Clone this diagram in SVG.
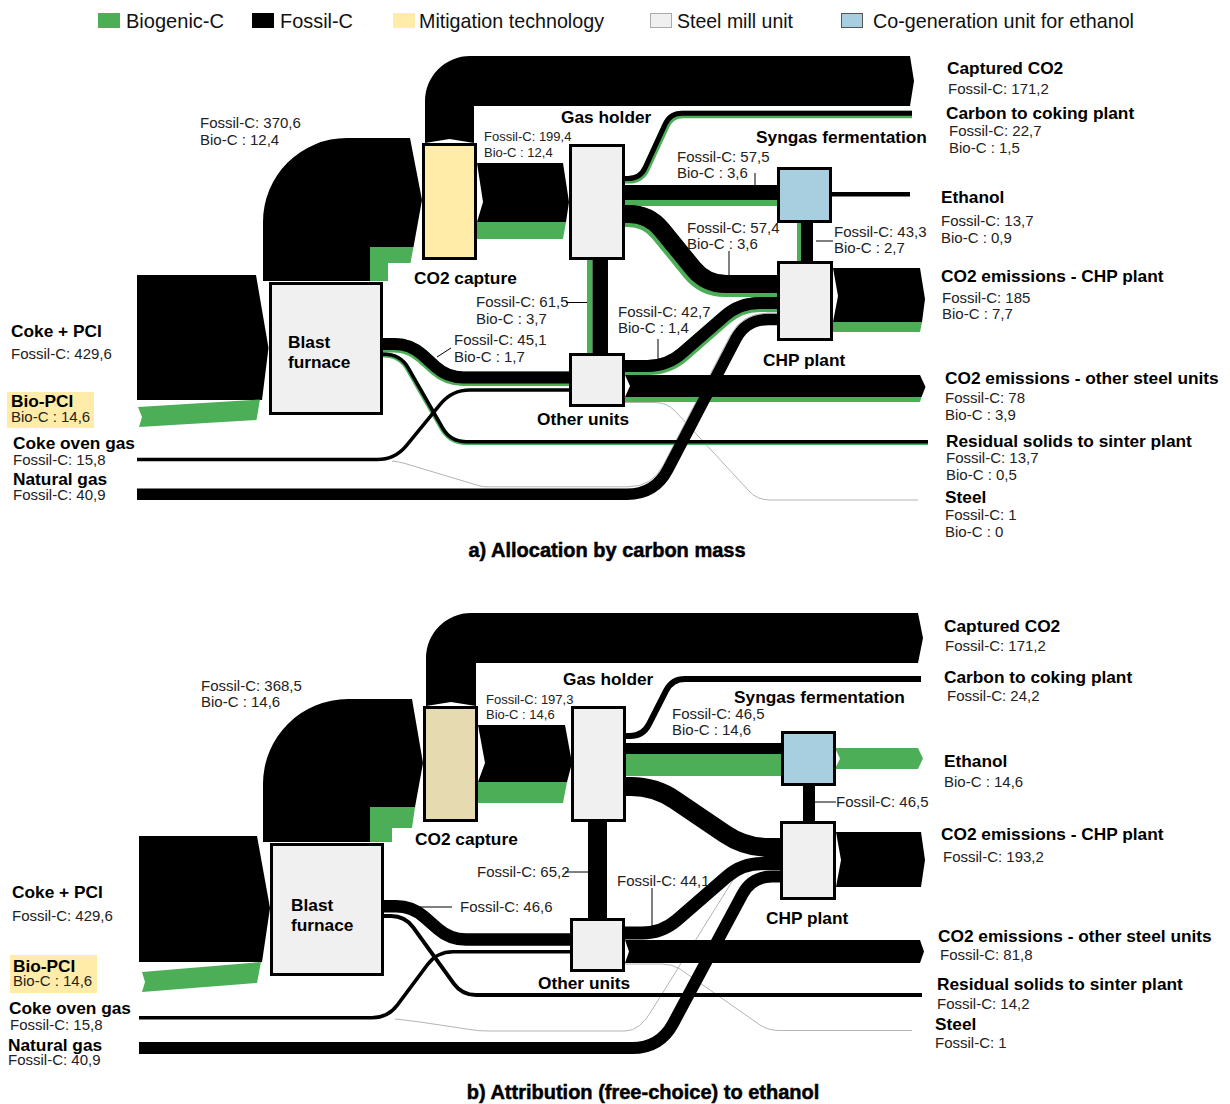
<svg xmlns="http://www.w3.org/2000/svg" width="1230" height="1104" viewBox="0 0 1230 1104">
<defs><style>
.k{fill:#000}
.g{fill:#4caf58}
.sk{fill:none;stroke:#000}
.sg{fill:none;stroke:#4caf58}
.gr{fill:none;stroke:#b4b4b4;stroke-width:1}
.tk{stroke:#000;stroke-width:1;fill:none}
.box{stroke:#000;stroke-width:3}
.steel{fill:#f0f0f0}
.mit{fill:#ffeca9}
.mit2{fill:#e6dbb0}
.cog{fill:#a8cfe0}
text{font-family:"Liberation Sans",Arial,Helvetica,sans-serif;fill:#000}
.n{font-size:17.3px;font-weight:bold}
.v{font-size:15px;fill:#222}
.vs{font-size:13px;fill:#222}
.lg{font-size:21px;fill:#111}
.ti{font-size:20px;font-weight:bold;stroke:#000;stroke-width:0.5}
</style></defs>
<rect width="1230" height="1104" fill="#fff"/>

<g id="legend">
<rect x="98" y="13" width="22" height="15" class="g"/>
<text class="lg" x="126" y="28" textLength="98" lengthAdjust="spacingAndGlyphs">Biogenic-C</text>
<rect x="252" y="13" width="22" height="15" class="k"/>
<text class="lg" x="280" y="28" textLength="73" lengthAdjust="spacingAndGlyphs">Fossil-C</text>
<rect x="393" y="13" width="22" height="15" class="mit"/>
<text class="lg" x="419" y="28" textLength="185" lengthAdjust="spacingAndGlyphs">Mitigation technology</text>
<rect x="650.5" y="13.5" width="21" height="14" fill="#f0f0f0" stroke="#aaa"/>
<text class="lg" x="677" y="28" textLength="116" lengthAdjust="spacingAndGlyphs">Steel mill unit</text>
<rect x="841.5" y="13.5" width="21" height="14" fill="#a8cfe0" stroke="#555"/>
<text class="lg" x="873" y="28" textLength="261" lengthAdjust="spacingAndGlyphs">Co-generation unit for ethanol</text>
</g>

<g id="connectors-a">
<path class="gr" d="M392,461 Q398,461.5 405,463.5 L480,486 Q483,486.8 487,486.8 L628,486.8 Q652,486.8 663.1,465.5 L730,336.1 Q742,313 768,313 L777,313"/>
<path class="gr" d="M625,402.5 L655,402.5 Q667,402.5 675,411 L749,491 Q757,500 770,500 L918,500"/>
<path class="k" d="M137,275 L256,275 L268.5,348 L262,400 L137,400 Z"/>
<path class="g" d="M138,407 L260,399.5 L256.5,420 L139,427 L142,417 Z"/>
<path class="k" d="M263,281 L263,222 A84,84 0 0 1 347,138 L410,138 L422,200 L413.5,247 L370,247 L370,281 Z"/>
<path class="g" d="M370,281 L370,247 L413.5,247 L410.5,263 L388,263 L388,281 Z"/>
<path class="k" d="M425,143 L425,101 A45,45 0 0 1 470,56 L910,56 L914,81 L910,106 L474,106 L474,143 L449.5,139 Z"/>
<path class="k" d="M477,163 L563,163 L569,202 L566,222 L477,222 L483,202 Z"/>
<path class="g" d="M477,222 L566,222 L563,239 L477,239 Z"/>
<path class="sg" stroke-width="7.5" d="M625,179.75 L629,179.75 Q641,179.75 646,168.85 L666,125.4 Q671,114.5 683,114.5 L912,114.5"/>
<path class="sk" stroke-width="5" d="M625,178.5 L628.2,178.5 Q640.2,178.5 645.2,167.6 L665.2,124.15 Q670.2,113.25 682.2,113.25 L912,113.25"/>
<rect class="k" x="624" y="185" width="155" height="15"/>
<rect class="g" x="624" y="200" width="155" height="6"/>
<path class="sg" stroke-width="22" d="M625,216 L628,216 Q648,216 660.6,231.5 L692.4,270.5 Q705,286 725,286 L777,286"/>
<path class="sk" stroke-width="18" d="M625,214 L628.95,214 Q648.95,214 661.55,229.5 L693.35,268.5 Q705.95,284 725.95,284 L777,284"/>
<rect class="g" x="587" y="258" width="5.5" height="95"/>
<rect class="k" x="592.5" y="258" width="15.5" height="95"/>
<rect class="k" x="830" y="192" width="80" height="4.5"/>
<rect class="g" x="797" y="221" width="4" height="41"/>
<rect class="k" x="801" y="221" width="12" height="41"/>
<path class="k" d="M833,268 L920,268 L925,299 L922,322 L833,322 L838,296 Z"/>
<path class="g" d="M833,322 L922,322 L920,332 L833,332 Z"/>
<path class="sg" stroke-width="14.5" d="M382,345.25 L394,345.25 Q410,345.25 421.9,356 L435.1,368 Q447,378.75 463,378.75 L570,378.75"/>
<path class="sk" stroke-width="12" d="M382,344 L394.5,344 Q410.5,344 422.4,354.75 L435.6,366.75 Q447.5,377.5 463.5,377.5 L570,377.5"/>
<path class="sg" stroke-width="5" d="M382,355 L384,355 Q400,355 407.9,368.9 L442.1,428.6 Q450,442.5 466,442.5 L928,442.5"/>
<path class="sk" stroke-width="3.5" d="M382,354.25 L384.4,354.25 Q400.4,354.25 408.3,368.15 L442.5,427.85 Q450.4,441.75 466.4,441.75 L928,441.75"/>
<path class="sk" stroke-width="3.5" d="M137,459.5 L377,459.5 Q395,459.5 406.4,445.6 L440.6,403.9 Q452,390 470,390 L570,390"/>
<path class="k" d="M625,375 L920,375 L925.5,387 L921.5,397 L625,397 L630,386 Z"/>
<path class="g" d="M625,397 L921.5,397 L920,402 L625,402 Z"/>
<path class="sg" stroke-width="15" d="M625,367.5 L648,367.5 Q668,367.5 683,354.3 L725,317.7 Q740,304.5 760,304.5 L777,304.5"/>
<path class="sk" stroke-width="12" d="M625,366 L647.4,366 Q667.4,366 682.4,352.8 L724.4,316.2 Q739.4,303 759.4,303 L777,303"/>
<path class="sk" stroke-width="11.5" d="M137,494.25 L627,494.25 Q655,494.25 667.9,469.4 L735.8,339 Q746,319.5 768,319.5 L777,319.5"/>
</g>

<g id="connectors-b">
<path class="gr" d="M395,1019 Q405,1020 420,1022 L470,1029.5 Q478,1031 488,1031 L625,1031 Q640,1031 652,1010 L733,880 Q740,870 752,870 L781,870"/>
<path class="gr" d="M625,964 L662,964 Q672,964 680,969 L760,1025 Q768,1030.5 780,1030.5 L912,1030.5"/>
<path class="k" d="M139,836 L257,836 L270,908 L262,962 L139,962 Z"/>
<path class="g" d="M142,972 L261,962 L257,983 L142,992 L145,982 Z"/>
<path class="k" d="M263,842 L263,784 A85,85 0 0 1 348,699 L412,699 L423,763 L415,807 L370,807 L370,842 Z"/>
<path class="g" d="M370,842 L370,807 L415,807 L412,828 L392,828 L392,842 Z"/>
<path class="k" d="M426,706 L426,658 A45,45 0 0 1 471,613 L918,613 L923,638 L918,663 L476,663 L476,706 L451,702 Z"/>
<path class="k" d="M478,725 L565,725 L572,763 L567,782 L478,782 L485,763 Z"/>
<path class="g" d="M478,782 L567,782 L563,803 L478,803 Z"/>
<path class="sk" stroke-width="6" d="M626,736 L630,736 Q643,736 648.9,724.4 L666.1,690.6 Q672,679 685,679 L921,679"/>
<rect class="k" x="625" y="743" width="158" height="11"/>
<rect class="g" x="625" y="754" width="158" height="22"/>
<path class="g" d="M835,748 L918,748 L923,758.5 L918,769 L835,769 L840,758.5 Z"/>
<path class="sk" stroke-width="19" d="M626,786.5 L631,786.5 Q655,786.5 674.9,800 L725.1,834 Q745,847.5 769,847.5 L780,847.5"/>
<rect class="k" x="588" y="821" width="19" height="98"/>
<rect class="k" x="803" y="785" width="12" height="37"/>
<path class="k" d="M836,832 L921,832 L925,860 L921,887 L836,887 L841,860 Z"/>
<path class="sk" stroke-width="12.5" d="M384,906.25 L396,906.25 Q412,906.25 424,916.8 L438,929 Q450,939.5 466,939.5 L571,939.5"/>
<path class="sk" stroke-width="4" d="M384,916 L391,916 Q405,916 413.2,927.4 L453.8,983.6 Q462,995 476,995 L922,995"/>
<path class="sk" stroke-width="3.5" d="M139,1017.75 L372,1017.75 Q388,1017.75 397.5,1004.9 L427.5,964.6 Q437,951.75 453,951.75 L571,951.75"/>
<path class="k" d="M625,940 L920,940 L924,951.5 L920,963 L625,963 L629,951.5 Z"/>
<path class="sk" stroke-width="13" d="M625,933 L642,933 Q662,933 677.1,919.9 L726.9,876.6 Q742,863.5 762,863.5 L780,863.5"/>
<path class="sk" stroke-width="12" d="M139,1048 L632,1048 Q660,1048 673.2,1023.3 L742.5,894.1 Q752,876.5 772,876.5 L780,876.5"/>
</g>

<g id="flow-labels-a">
<text class="v" x="200" y="128">Fossil-C: 370,6</text><text class="v" x="200" y="145">Bio-C : 12,4</text>
<text class="vs" x="484" y="141">Fossil-C: 199,4</text><text class="vs" x="484" y="157">Bio-C : 12,4</text>
<text class="v" x="677" y="162">Fossil-C: 57,5</text><text class="v" x="677" y="178">Bio-C : 3,6</text>
<line class="tk" x1="755" y1="173" x2="755" y2="185"/>
<text class="v" x="687" y="233">Fossil-C: 57,4</text><text class="v" x="687" y="249">Bio-C : 3,6</text>
<line class="tk" x1="729" y1="251" x2="729" y2="275"/>
<text class="v" x="834" y="237">Fossil-C: 43,3</text><text class="v" x="834" y="253">Bio-C : 2,7</text>
<line class="tk" x1="816" y1="241" x2="833" y2="241"/>
<text class="v" x="476" y="307">Fossil-C: 61,5</text><text class="v" x="476" y="324">Bio-C : 3,7</text>
<line class="tk" x1="566" y1="302.5" x2="587" y2="302.5"/>
<text class="v" x="454" y="345">Fossil-C: 45,1</text><text class="v" x="454" y="362">Bio-C : 1,7</text>
<line class="tk" x1="437" y1="357" x2="451" y2="348"/>
<text class="v" x="618" y="317">Fossil-C: 42,7</text><text class="v" x="618" y="333">Bio-C : 1,4</text>
<line class="tk" x1="658" y1="339" x2="658" y2="359"/>
<text class="ti" x="607" y="557" text-anchor="middle">a) Allocation by carbon mass</text>
</g>

<g id="flow-labels-b">
<text class="v" x="201" y="691">Fossil-C: 368,5</text><text class="v" x="201" y="707">Bio-C : 14,6</text>
<text class="vs" x="486" y="704">Fossil-C: 197,3</text><text class="vs" x="486" y="719">Bio-C : 14,6</text>
<text class="v" x="672" y="719">Fossil-C: 46,5</text><text class="v" x="672" y="735">Bio-C : 14,6</text>
<text class="v" x="836" y="807">Fossil-C: 46,5</text>
<line class="tk" x1="815" y1="802" x2="836" y2="802"/>
<text class="v" x="477" y="877">Fossil-C: 65,2</text>
<line class="tk" x1="565" y1="872" x2="588" y2="872"/>
<text class="v" x="460" y="912">Fossil-C: 46,6</text>
<line class="tk" x1="420" y1="907" x2="452" y2="907"/>
<text class="v" x="617" y="886">Fossil-C: 44,1</text>
<line class="tk" x1="652" y1="888" x2="652" y2="927"/>
<text class="ti" x="643" y="1099" text-anchor="middle">b) Attribution (free-choice) to ethanol</text>
</g>

<g id="node-blast-furnace-a"><rect class="box steel" x="270.5" y="283.5" width="111" height="130"/><text class="n" x="288" y="348">Blast</text><text class="n" x="288" y="368">furnace</text></g>
<g id="node-co2-capture-a"><rect class="box mit" x="423.5" y="144.5" width="52" height="114"/><text class="n" x="414" y="284">CO2 capture</text></g>
<g id="node-gas-holder-a"><rect class="box steel" x="570.5" y="145.5" width="53" height="113"/><text class="n" x="561" y="123">Gas holder</text></g>
<g id="node-other-units-a"><rect class="box steel" x="570.5" y="354.5" width="53" height="51"/><text class="n" x="537" y="425">Other units</text></g>
<g id="node-syngas-a"><rect class="box cog" x="778.5" y="168.5" width="52" height="53"/><text class="n" x="756" y="143">Syngas fermentation</text></g>
<g id="node-chp-a"><rect class="box steel" x="778.5" y="262.5" width="53" height="77"/><text class="n" x="763" y="366">CHP plant</text></g>

<g id="node-inputs-a">
<text class="n" x="11" y="337">Coke + PCI</text><text class="v" x="11" y="359">Fossil-C: 429,6</text>
<rect x="7" y="392" width="87" height="36" fill="#ffeca9"/>
<text class="n" x="11" y="407">Bio-PCI</text><text class="v" x="11" y="422">Bio-C : 14,6</text>
<text class="n" x="13" y="449">Coke oven gas</text><text class="v" x="13" y="465">Fossil-C: 15,8</text>
<text class="n" x="13" y="485">Natural gas</text><text class="v" x="13" y="500">Fossil-C: 40,9</text>
</g>
<g id="node-outputs-a">
<text class="n" x="947" y="74">Captured CO2</text><text class="v" x="948" y="94">Fossil-C: 171,2</text>
<text class="n" x="946" y="119">Carbon to coking plant</text><text class="v" x="949" y="136">Fossil-C: 22,7</text><text class="v" x="949" y="153">Bio-C : 1,5</text>
<text class="n" x="941" y="203">Ethanol</text><text class="v" x="941" y="226">Fossil-C: 13,7</text><text class="v" x="941" y="243">Bio-C : 0,9</text>
<text class="n" x="941" y="282">CO2 emissions - CHP plant</text><text class="v" x="942" y="303">Fossil-C: 185</text><text class="v" x="942" y="319">Bio-C : 7,7</text>
<text class="n" x="945" y="384">CO2 emissions - other steel units</text><text class="v" x="945" y="403">Fossil-C: 78</text><text class="v" x="945" y="420">Bio-C : 3,9</text>
<text class="n" x="946" y="447">Residual solids to sinter plant</text><text class="v" x="946" y="463">Fossil-C: 13,7</text><text class="v" x="946" y="480">Bio-C : 0,5</text>
<text class="n" x="945" y="503">Steel</text><text class="v" x="945" y="520">Fossil-C: 1</text><text class="v" x="945" y="537">Bio-C : 0</text>
</g>

<g id="node-blast-furnace-b"><rect class="box steel" x="271.5" y="844.5" width="111" height="130"/><text class="n" x="291" y="911">Blast</text><text class="n" x="291" y="931">furnace</text></g>
<g id="node-co2-capture-b"><rect class="box mit2" x="424.5" y="707.5" width="52" height="113"/><text class="n" x="415" y="845">CO2 capture</text></g>
<g id="node-gas-holder-b"><rect class="box steel" x="572.5" y="707.5" width="52" height="113"/><text class="n" x="563" y="685">Gas holder</text></g>
<g id="node-other-units-b"><rect class="box steel" x="571.5" y="919.5" width="52" height="51"/><text class="n" x="538" y="989">Other units</text></g>
<g id="node-syngas-b"><rect class="box cog" x="782.5" y="732.5" width="52" height="52"/><text class="n" x="734" y="703">Syngas fermentation</text></g>
<g id="node-chp-b"><rect class="box steel" x="781.5" y="822.5" width="53" height="76"/><text class="n" x="766" y="924">CHP plant</text></g>

<g id="node-inputs-b">
<text class="n" x="12" y="898">Coke + PCI</text><text class="v" x="12" y="921">Fossil-C: 429,6</text>
<rect x="10" y="955" width="87" height="38" fill="#ffeca9"/>
<text class="n" x="13" y="972">Bio-PCI</text><text class="v" x="13" y="986">Bio-C : 14,6</text>
<text class="n" x="9" y="1014">Coke oven gas</text><text class="v" x="10" y="1030">Fossil-C: 15,8</text>
<text class="n" x="8" y="1051">Natural gas</text><text class="v" x="8" y="1065">Fossil-C: 40,9</text>
</g>
<g id="node-outputs-b">
<text class="n" x="944" y="632">Captured CO2</text><text class="v" x="945" y="651">Fossil-C: 171,2</text>
<text class="n" x="944" y="683">Carbon to coking plant</text><text class="v" x="947" y="701">Fossil-C: 24,2</text>
<text class="n" x="944" y="767">Ethanol</text><text class="v" x="944" y="787">Bio-C : 14,6</text>
<text class="n" x="941" y="840">CO2 emissions - CHP plant</text><text class="v" x="943" y="862">Fossil-C: 193,2</text>
<text class="n" x="938" y="942">CO2 emissions - other steel units</text><text class="v" x="940" y="960">Fossil-C: 81,8</text>
<text class="n" x="937" y="990">Residual solids to sinter plant</text><text class="v" x="937" y="1009">Fossil-C: 14,2</text>
<text class="n" x="935" y="1030">Steel</text><text class="v" x="935" y="1048">Fossil-C: 1</text>
</g>
</svg>
